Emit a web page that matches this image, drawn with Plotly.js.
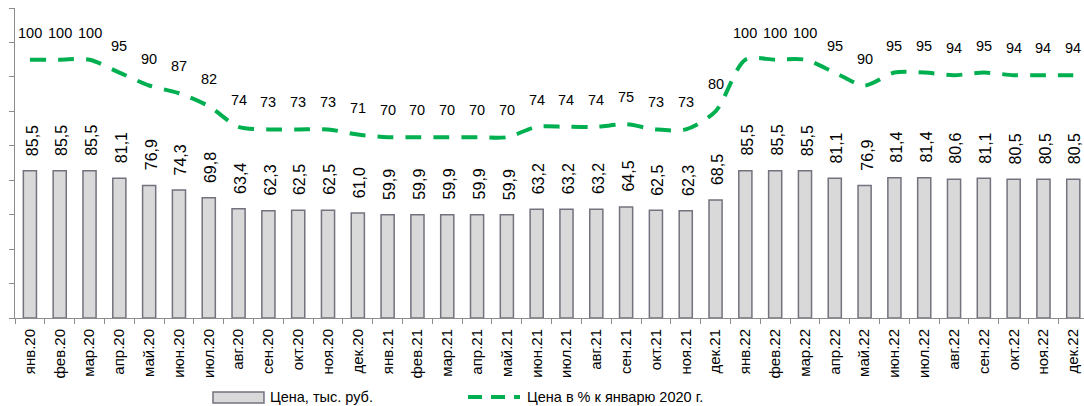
<!DOCTYPE html>
<html>
<head>
<meta charset="utf-8">
<script src="https://cdn.plot.ly/plotly-3.0.1.min.js"></script>
<style>html,body{margin:0;padding:0;background:#fff;}#chart{width:1084px;height:406px;}</style>
</head>
<body>
<div id="chart"></div>
<script>
const months = ["янв.20","фев.20","мар.20","апр.20","май.20","июн.20","июл.20","авг.20","сен.20","окт.20","ноя.20","дек.20",
  "янв.21","фев.21","мар.21","апр.21","май.21","июн.21","июл.21","авг.21","сен.21","окт.21","ноя.21","дек.21",
  "янв.22","фев.22","мар.22","апр.22","май.22","июн.22","июл.22","авг.22","сен.22","окт.22","ноя.22","дек.22"];
const prices = [85.5,85.5,85.5,81.1,76.9,74.3,69.8,63.4,62.3,62.5,62.5,61.0,
  59.9,59.9,59.9,59.9,59.9,63.2,63.2,63.2,64.5,62.5,62.3,68.5,
  85.5,85.5,85.5,81.1,76.9,81.4,81.4,80.6,81.1,80.5,80.5,80.5];
const percent = [100,100,100,95,90,87,82,74,73,73,73,71,
  70,70,70,70,70,74,74,74,75,73,73,80,
  100,100,100,95,90,95,95,94,95,94,94,94];
const barName = "Цена, тыс. руб.";
const lineName = "Цена в % к январю 2020 г.";

const FONT = "Liberation Sans, Arial, sans-serif";
const AXIS = "#8c8c8c";

const traces = [
  {
    type: "bar", x: months, y: prices, name: barName, showlegend: false,
    marker: {color: "#D9D9D9", line: {color: "#76717F", width: 1.5}},
    hoverinfo: "skip"
  },
  {
    type: "scatter", mode: "lines", x: months, y: percent, yaxis: "y2", name: lineName, showlegend: false,
    line: {color: "#00B050", width: 4, dash: "16px,12px", shape: "spline", smoothing: 0.8},
    hoverinfo: "skip"
  }
];

const annotations = [];
prices.forEach((v, i) => {
  annotations.push({x: months[i], y: v, xref: "x", yref: "y", text: v.toFixed(1).replace(".", ","),
    showarrow: false, textangle: -90, yanchor: "bottom", xanchor: "center", yshift: 13, xshift: 2,
    font: {family: FONT, size: 16, color: "#000"}});
});
percent.forEach((v, i) => {
  annotations.push({x: months[i], y: v, xref: "x", yref: "y2", text: String(v),
    showarrow: false, yanchor: "middle", xanchor: "center", yshift: 27,
    font: {family: FONT, size: 14.5, color: "#000"}});
});
// legend texts
annotations.push({xref: "paper", yref: "paper", x: 0.2367, y: -0.2548, xanchor: "left", yanchor: "middle",
  text: barName, showarrow: false, font: {family: FONT, size: 14.5, color: "#000"}});
annotations.push({xref: "paper", yref: "paper", x: 0.4771, y: -0.2548, xanchor: "left", yanchor: "middle",
  text: lineName, showarrow: false, font: {family: FONT, size: 14.5, color: "#000"}});

const shapes = [
  {type: "rect", xref: "paper", yref: "paper", x0: 0.1852, x1: 0.2329, y0: -0.274, y1: -0.239,
   fillcolor: "#D9D9D9", line: {color: "#76717F", width: 1.5}},
  {type: "line", xref: "paper", yref: "paper", x0: 0.4238, x1: 0.4724, y0: -0.2548, y1: -0.2548,
   line: {color: "#00B050", width: 4, dash: "14px,9px"}}
];

const layout = {
  width: 1084, height: 406,
  margin: {l: 15, r: 0, t: 8, b: 88, pad: 0},
  paper_bgcolor: "#fff", plot_bgcolor: "#fff",
  font: {family: FONT, size: 13, color: "#000"},
  bargap: 0.56,
  showlegend: false,
  xaxis: {
    type: "category", range: [-0.5, 35.36], tickangle: -90, ticks: "outside", tickson: "boundaries",
    ticklen: 5, tickcolor: AXIS, showline: true, linecolor: AXIS, linewidth: 1, showgrid: false,
    ticklabelstandoff: 4,
    tickfont: {family: FONT, size: 15, color: "#000"}, fixedrange: true
  },
  yaxis: {
    range: [0, 180], dtick: 20, showticklabels: false, ticks: "outside", ticklen: 5, tickcolor: AXIS,
    showline: true, linecolor: AXIS, linewidth: 1, showgrid: false, zeroline: false, fixedrange: true
  },
  yaxis2: {range: [0, 120], overlaying: "y", visible: false, fixedrange: true},
  annotations: annotations,
  shapes: shapes
};

Plotly.newPlot("chart", traces, layout, {staticPlot: true, displayModeBar: false});
</script>
</body>
</html>
